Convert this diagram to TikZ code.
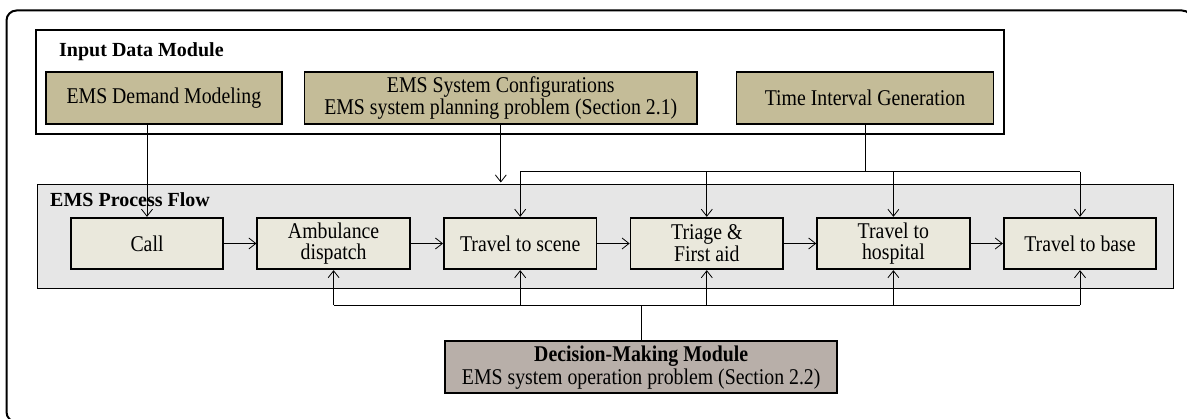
\documentclass[tikz,border=0pt]{standalone}
\usepackage{fontspec}
\setmainfont{Liberation Serif}[FakeStretch=0.88]
\newfontfamily\capfont{Liberation Serif}
\usetikzlibrary{arrows.meta,positioning}
\definecolor{inputfill}{HTML}{C4BC98}
\definecolor{stepfill}{HTML}{EAE8DC}
\definecolor{flowfill}{HTML}{E6E6E6}
\definecolor{decisionfill}{HTML}{B8AFA9}
\tikzset{
  modulebox/.style={
    draw=black,
    line width=2pt,
    inner sep=0pt
  },
  databox/.style={
    draw=black,
    fill=inputfill,
    line width=1.8pt,
    minimum height=52pt,
    inner sep=2pt,
    align=center,
    font=\fontsize{22.5}{21.5}\selectfont
  },
  stepbox/.style={
    draw=black,
    fill=stepfill,
    line width=1.8pt,
    minimum width=152.5pt,
    minimum height=51.5pt,
    inner sep=2pt,
    align=center,
    font=\fontsize{22.5}{21.8}\selectfont
  },
  caption/.style={anchor=base west, inner sep=0pt, font=\capfont\fontsize{20}{22}\selectfont\bfseries},
  flowarrow/.style={-{Straight Barb[length=7pt,width=11pt]}, line width=0.8pt},
  busline/.style={line width=0.8pt}
}

\begin{document}
\begin{tikzpicture}[x=1pt,y=-1pt]
      \useasboundingbox (0,0) rectangle (1187,419);
      \clip (0,0) rectangle (1187,419);
      \draw[line width=2pt, rounded corners=10pt] (6.5,10.5) rectangle (1192,422);
      % input data module
      \node[modulebox, minimum width=968pt, minimum height=104pt] (inputmod) at (520.1,82.2) {};
      \node[caption] (inputlbl) at (59,57) {Input Data Module};
      \node[databox, minimum width=236pt] (demand) at (163.9,98) {EMS Demand Modeling};
      \node[databox, minimum width=392.5pt] (config) at (500.8,98) {EMS System Configurations\\EMS system planning problem (Section 2.1)};
      \node[databox, minimum width=257pt] (timegen) at (865,98) {Time Interval Generation};
      % process flow
      \node[modulebox, fill=flowfill, line width=1.6pt, minimum width=1136pt, minimum height=104pt] (flowmod) at (605.4,236.6) {};
      \node[caption] (flowlbl) at (50,207) {EMS Process Flow};
      \node[stepbox] (call) at (147,243.5) {Call};
      \node[stepbox,right=32.3pt of call] (dispatch) {Ambulance\\dispatch};
      \node[stepbox,right=32.3pt of dispatch] (scene) {Travel to scene};
      \node[stepbox,right=32.3pt of scene] (triage) {Triage \&\\First aid};
      \node[stepbox,right=32.3pt of triage] (hospital) {Travel to\\hospital};
      \node[stepbox,right=32.3pt of hospital] (base) {Travel to base};
      \draw[flowarrow] (call) -- (dispatch);
      \draw[flowarrow] (dispatch) -- (scene);
      \draw[flowarrow] (scene) -- (triage);
      \draw[flowarrow] (triage) -- (hospital);
      \draw[flowarrow] (hospital) -- (base);
      % decision making module
      \node[databox, fill=decisionfill, minimum width=392pt] (decision) at (641.2,367.4) {\textbf{Decision-Making Module}\\[2pt]EMS system operation problem (Section 2.2)};
      % connectors
      \coordinate (topbus) at (0,171.7);
      \coordinate (lowbus) at (0,305);
      \coordinate (cfgend) at (500.8,182.5);
      \draw[flowarrow] (call.north |- demand.south) -- (call.north);
      \draw[flowarrow] (config.south) -- (cfgend);
      \draw[busline] (timegen.south) -- (timegen.south |- topbus);
      \draw[busline] (scene.north |- topbus) -- (base.north |- topbus);
      \foreach \s in {scene,triage,hospital,base}
        \draw[flowarrow] (\s.north |- topbus) -- (\s.north);
      \draw[busline] (decision.north) -- (decision.north |- lowbus);
      \draw[busline] (dispatch.south |- lowbus) -- (base.south |- lowbus);
      \foreach \s in {dispatch,scene,triage,hospital,base}
        \draw[flowarrow] (\s.south |- lowbus) -- (\s.south);
    \end{tikzpicture}
\end{document}
